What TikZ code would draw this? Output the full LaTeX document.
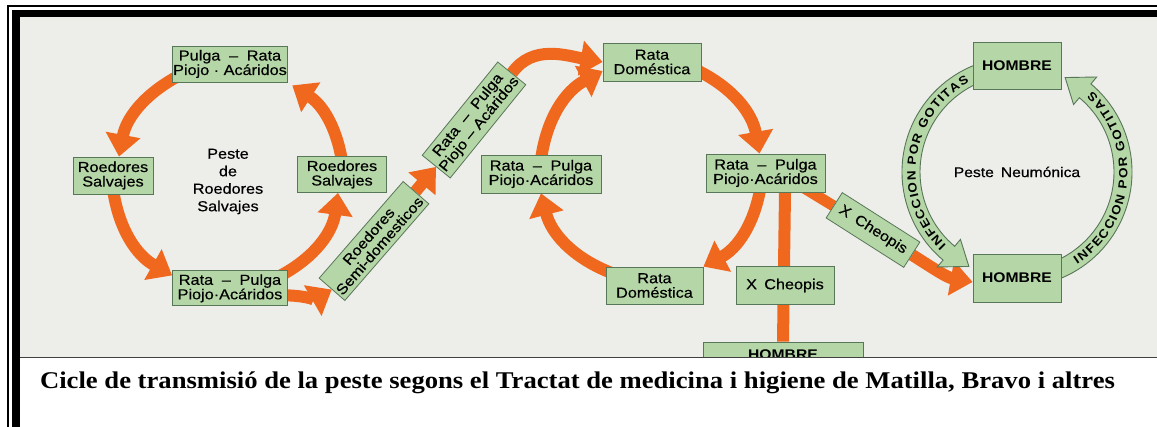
\documentclass[tikz,border=0pt]{standalone}
\usepackage{fontspec}
\setmainfont[FakeStretch=1.12]{Liberation Sans}
\newfontfamily\cajafont[FakeStretch=1.12,FakeBold=0.4]{Liberation Sans}
\newfontfamily\piefont[FakeStretch=1.11]{Liberation Serif}
\usetikzlibrary{arrows.meta,decorations.text,backgrounds}
\definecolor{verde}{RGB}{181,215,167}
\definecolor{verdeosc}{RGB}{88,118,88}
\definecolor{naranja}{RGB}{239,104,30}
\definecolor{papel}{RGB}{237,237,234}
\tikzset{
  caja/.style={draw=verdeosc,fill=verde,line width=0.8pt,align=center,inner sep=1pt,
    font=\cajafont\fontsize{14.5}{14.5}\selectfont},
  flecha/.style={draw=naranja,line width=12pt,-{Triangle[width=34pt,length=22pt]}},
  tira/.style={draw=verdeosc,fill=verde,line width=0.9pt},
  gotitas/.style={decorate,decoration={text along path,text align={fit to path},
    text={|\bfseries\fontsize{12}{14}\selectfont|INFECCION POR GOTITAS}}}
}
\newcommand{\guion}{\hspace{0.6em}–\hspace{0.6em}}
\newcommand{\hombre}{{\normalfont\bfseries\fontsize{14}{16}\selectfont HOMBRE}}
\begin{document}
\begin{tikzpicture}[x=1pt,y=1pt]
  \useasboundingbox (0,0) rectangle (1157,427);
  \def \Cajas {
    pr1/230/363/114/36/0/{Pulga\guion Rata\\Piojo · Acáridos},
    rs1/113/251.5/80/37/0/{Roedores\\Salvajes},
    rs2/342/252.5/89/36/0/{Roedores\\Salvajes},
    pr2/230/138.7/115/35/0/{Rata\guion Pulga\\Piojo·Acáridos},
    sd/374/186/128/34/49/{Roedores\\Semi-domesticos},
    rp3/474/307/120/36/51/{Rata\guion Pulga\\Piojo – Acáridos},
    rd1/652/365/98/38/0/{Rata\\Doméstica},
    rp1/541/253/120/38/0/{Rata\guion Pulga\\Piojo·Acáridos},
    rp2/765.5/254/119/38/0/{Rata\guion Pulga\\Piojo·Acáridos},
    rd2/654.5/141.5/97/37/0/{Rata\\Doméstica},
    xs/785/141.5/98/38/0/{X\enspace Cheopis},
    xc/873/197/92/30/-32.5/{X\enspace Cheopis},
    hb1/1017/361.5/88/47/0/{\hombre},
    hb2/1017/149/88/48/0/{\hombre},
    hb3/783/72/160/26/0/{\hombre}}

  \foreach \id / \x / \y / \w / \h / \r / \t in \Cajas {
    \node[caja,minimum width=\w pt,minimum height=\h pt,rotate=\r] (\id) at (\x,\y) {\t};
  }
  \node[align=center,font=\cajafont\fontsize{14.5}{17.5}\selectfont] (t1) at (228,245.5) {Peste\\de\\Roedores\\Salvajes};
  \node[font=\cajafont\fontsize{14}{16}\selectfont] (t2) at (1017,255) {Peste\enspace Neumónica};
  \coordinate (c3) at (1017,255);

  \begin{pgfonlayer}{background}
    \fill[papel] (20,69) rectangle (1157,410);
    \draw[line width=1.5pt] (8,0) -- (8,421) -- (1157,421);
    \draw[line width=7.5pt] (16,0) -- (16,413.5) -- (1157,413.5);
    % roedores salvajes
    \draw[flecha] ([shift={(4pt,5pt)}]pr1.south west) to[bend right=25] ([xshift=6pt]rs1.north);
    \draw[flecha] ([yshift=5pt]rs1.south) to[bend right=26] ([yshift=-5pt]pr2.north west);
    \draw[flecha] ([shift={(-7pt,-5pt)}]pr2.north east) to[bend right=27] ([xshift=-4pt]rs2.south);
    \draw[flecha] ([yshift=-5pt]rs2.north) to[bend right=24] ([shift={(4pt,-3pt)}]pr1.south east);
    % paso a la rata domestica
    \draw[flecha] ([shift={(-5pt,-7pt)}]pr2.east) to[out=0,in=210] (sd.west);
    \draw[flecha] (sd) -- (rp3.west);
    \draw[flecha] (rp3.east) to[out=55,in=170] (rd1.west);
    % rata domestica
    \draw[flecha] ([shift={(-5pt,-8pt)}]rd1.east) to[bend left=27] ([xshift=-6pt]rp2.north);
    \draw[flecha] ([shift={(-5pt,5pt)}]rp2.south) to[bend left=26] (rd2.north east);
    \draw[flecha] ([shift={(5pt,-6pt)}]rd2.north west) to[bend left=27] (rp1.south);
    \draw[flecha] ([yshift=-5pt]rp1.north) to[bend left=27] ([yshift=-9pt]rd1.west);
    % al hombre
    \draw[naranja,line width=11pt] ([xshift=14pt]rp2.center) -- (xc);
    \draw[flecha] (xc.east) to[out=-32.5,in=170] ([yshift=-4pt]hb2.west);
    \draw[naranja,line width=12pt] (rp2.south -| xs) -- (hb3.north);
    % peste neumonica
    \foreach \a / \b in {108/230, -70/50} {
      \draw[tira] ([shift={(\a:115pt)}]c3) arc[start angle=\a,end angle=\b,radius=115pt]
        -- ([shift={(\b:124pt)}]c3) -- ([shift={(\b+13:106pt)}]c3) -- ([shift={(\b:88pt)}]c3)
        -- ([shift={(\b:97pt)}]c3) arc[start angle=\b,end angle=\a,radius=97pt] -- cycle;
    }
    \path[gotitas] ([shift={(226:101.5pt)}]c3) arc[start angle=226,end angle=118,radius=101.5pt];
    \path[gotitas] ([shift={(-57:110.5pt)}]c3) arc[start angle=-57,end angle=47,radius=110.5pt];
  \end{pgfonlayer}

  % pie
  \fill[white] (20,0) rectangle (1157,68.5);
  \draw[black!75,line width=1pt] (20,69) -- (1157,69);
  \node[font=\piefont\bfseries\fontsize{24}{28}\selectfont] (pie) at (577.5,44)
    {Cicle de transmisió de la peste segons el Tractat de medicina i higiene de Matilla, Bravo i altres};
\end{tikzpicture}
\end{document}
